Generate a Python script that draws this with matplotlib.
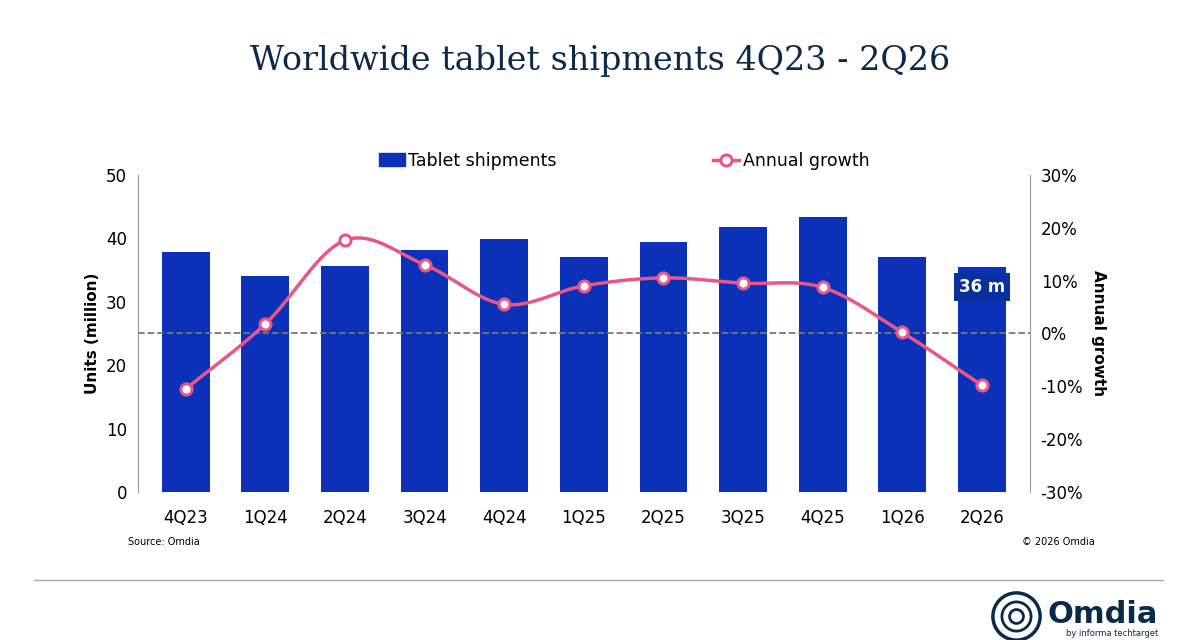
import numpy as np
import matplotlib
matplotlib.use('Agg')
from matplotlib import pyplot as plt
from matplotlib.lines import Line2D
from matplotlib.patches import Patch

quarters = ['4Q23', '1Q24', '2Q24', '3Q24', '4Q24', '1Q25', '2Q25', '3Q25', '4Q25', '1Q26', '2Q26']
shipments = [37.8, 34.0, 35.7, 38.1, 39.8, 37.0, 39.4, 41.8, 43.3, 37.0, 35.5]
growth = [-10.5, 1.8, 17.6, 13.0, 5.5, 9.0, 10.5, 9.5, 8.7, 0.2, -9.8]

blue = '#0a31b8'
pink = '#e8578a'
navy = '#0b2a4a'


def catmull(x, y, n=30):
    # smooth curve through points, like an Excel smoothed line
    x = np.asarray(x, float)
    y = np.asarray(y, float)
    px = np.concatenate([[2 * x[0] - x[1]], x, [2 * x[-1] - x[-2]]])
    py = np.concatenate([[2 * y[0] - y[1]], y, [2 * y[-1] - y[-2]]])
    xs, ys = [], []
    t = np.linspace(0, 1, n)
    for i in range(1, len(px) - 2):
        for p, out in ((px, xs), (py, ys)):
            p0, p1, p2, p3 = p[i - 1], p[i], p[i + 1], p[i + 2]
            out.extend(0.5 * (2 * p1 + (-p0 + p2) * t + (2 * p0 - 5 * p1 + 4 * p2 - p3) * t ** 2
                              + (-p0 + 3 * p1 - 3 * p2 + p3) * t ** 3))
    return np.array(xs), np.array(ys)


fig = plt.figure(figsize=(12, 6.4), dpi=100)
ax = fig.add_axes([0.115, 0.231, 0.743, 0.496])
x = np.arange(len(quarters))
ax.bar(x, shipments, width=0.6, color=blue, zorder=2)
ax.set_ylim(0, 50)
ax.set_xlim(-0.6, len(quarters) - 0.4)
ax.set_yticks(range(0, 51, 10))
ax.set_xticks(x)
ax.set_xticklabels(quarters)
ax.set_ylabel('Units (million)', fontsize=11, fontweight='bold')
for s in ['top', 'right', 'bottom']:
    ax.spines[s].set_visible(False)
ax.spines['left'].set_color('#999999')
ax.tick_params(axis='both', length=0, labelsize=12, pad=8)
ax.tick_params(axis='x', pad=12)

ax2 = ax.twinx()
ax2.set_ylim(-30, 30)
ax2.set_yticks(range(-30, 31, 10))
ax2.set_yticklabels([f'{v}%' for v in range(-30, 31, 10)])
for s in ['top', 'left', 'bottom']:
    ax2.spines[s].set_visible(False)
ax2.spines['right'].set_color('#999999')
ax2.tick_params(axis='y', length=0, labelsize=12, pad=8)
ax2.set_ylabel('Annual growth', fontsize=11, fontweight='bold', rotation=270, labelpad=16)
ax2.axhline(0, color='#777777', linestyle='--', linewidth=1.3, zorder=1)
sx, sy = catmull(x, growth)
ax2.plot(sx, sy, color=pink, linewidth=2.5, zorder=3)
ax2.plot(x, growth, 'o', markersize=8, markerfacecolor='white', markeredgecolor=pink,
         markeredgewidth=2.2, zorder=4)

ax.text(x[-1], 32.3, '36 m', ha='center', va='center', color='white', fontsize=12,
        fontweight='bold', zorder=5,
        bbox=dict(boxstyle='square,pad=0.3', fc='#0a2f9e', ec='none'))

handles = [Patch(color=blue),
           Line2D([], [], color=pink, lw=2.5, marker='o', markerfacecolor='white',
                  markeredgecolor=pink, markeredgewidth=2.2, markersize=8)]
fig.legend(handles, ['Tablet shipments', 'Annual growth'], loc='center', ncol=2,
           bbox_to_anchor=(0.52, 0.749), frameon=False, fontsize=12.5,
           columnspacing=9, handlelength=1.5, handletextpad=0.2)

fig.text(0.5, 0.905, 'Worldwide tablet shipments 4Q23 - 2Q26', ha='center', va='center',
         fontsize=24, color=navy, family='DejaVu Serif')
fig.text(0.107, 0.149, 'Source: Omdia', fontsize=7)
fig.text(0.912, 0.149, '© 2026 Omdia', fontsize=7, ha='right')
fig.add_artist(Line2D([0.028, 0.969], [0.093, 0.093], color='#aaaaaa', lw=1))

fig.text(0.965, 0.040, 'Omdia', ha='right', va='center', fontsize=22, fontweight='bold', color=navy)
fig.text(0.965, 0.003, 'by informa techtarget', ha='right', va='bottom', fontsize=6, color=navy)
for ms, mew in [(34, 2.5), (21, 2), (10, 2)]:
    fig.add_artist(Line2D([0.847], [0.037], marker='o', markersize=ms, markerfacecolor='none',
                          markeredgecolor=navy, markeredgewidth=mew, transform=fig.transFigure))

fig.savefig('out.png')
